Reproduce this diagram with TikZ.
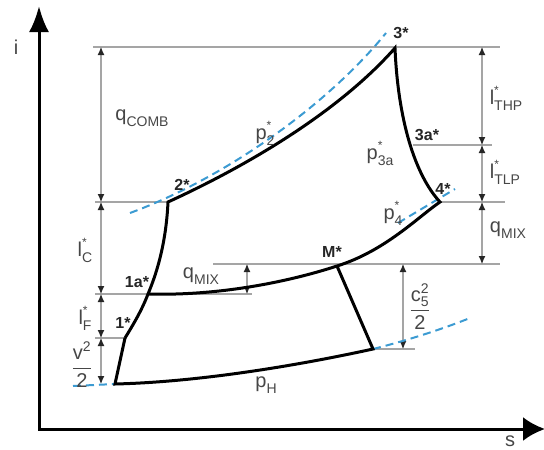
\documentclass[tikz,border=0pt]{standalone}
\usepackage{fontspec}
\setmainfont{Liberation Sans}
\usepackage{amsmath}
\usetikzlibrary{arrows.meta}
\definecolor{isoblue}{RGB}{60,155,210}
\definecolor{guidegray}{RGB}{165,165,165}
\definecolor{labgray}{RGB}{70,70,70}
% base, superscript, subscript
\newcommand{\Lab}[3]{#1\makebox[0pt][l]{\raisebox{0.5em}{\fontsize{12}{12}\selectfont #2}}\raisebox{-0.3em}{\fontsize{14}{14}\selectfont #3}}
\begin{document}
\begin{tikzpicture}[x=1pt,y=-1pt,
  axis/.style={line width=3pt, {Latex[length=26pt,width=20pt]}-{Latex[length=22pt,width=24pt]}},
  curve/.style={line width=3pt},
  guide/.style={draw=guidegray, line width=1.1pt},
  dim/.style={draw=guidegray, line width=1.1pt, {Latex[length=8pt,width=7pt,color=black!85]}-{Latex[length=8pt,width=7pt,color=black!85]}},
  iso/.style={draw=isoblue, line width=2pt, dash pattern=on 8pt off 5pt},
  ptlabel/.style={font=\bfseries\fontsize{16}{16}\selectfont, text=black!85, inner sep=0pt},
  lbl/.style={font=\fontsize{20}{20}\selectfont, text=labgray, inner sep=0pt},
]
\useasboundingbox (0,0) rectangle (544,450);

% points
\coordinate (P3) at (395,48);
\coordinate (P2) at (168,202);
\coordinate (P4) at (440,202);
\coordinate (PM) at (337,266);
\coordinate (P1a) at (148,294);
\coordinate (P1) at (125,338);
\coordinate (P0) at (115,384);
\coordinate (P5) at (373,349);

% axes
\coordinate (Ytop) at (39,6);
\coordinate (O) at (39,429);
\coordinate (Xend) at (545,429);
\draw[axis] (Ytop) -- (O) -- (Xend);
\node[lbl] (ilab) at (16,47) {i};
\node[lbl] (slab) at (510,441) {s};

% guide lines
\coordinate (g1a) at (93,47);   \coordinate (g1b) at (500,47);
\coordinate (g2a) at (413,145); \coordinate (g2b) at (492,145);
\coordinate (g3a) at (95,202);
\coordinate (g4b) at (505,202);
\coordinate (g5a) at (213,264); \coordinate (g5b) at (500,264);
\coordinate (g6a) at (95,294);  \coordinate (g6b) at (252,294);
\coordinate (g7a) at (95,338);
\coordinate (g8b) at (415,349);
\draw[guide] (g1a) -- (g1b);
\draw[guide] (g2a) -- (g2b);
\draw[guide] (g3a) -- (P2);
\draw[guide] (P4) -- (g4b);
\draw[guide] (g5a) -- (g5b);
\draw[guide] (g6a) -- (g6b);
\draw[guide] (g7a) -- (P1);
\draw[guide] (P5) -- (g8b);

% dimension lines
\coordinate (dl1) at (101,47);  \coordinate (dl2) at (101,202);
\coordinate (dl3) at (101,294); \coordinate (dl4) at (101,338);
\coordinate (dl5) at (101,384);
\draw[dim] (dl1) -- (dl2);
\draw[dim] (dl2) -- (dl3);
\draw[dim] (dl3) -- (dl4);
\draw[dim] (dl4) -- (dl5);
\coordinate (dr1) at (482,47);  \coordinate (dr2) at (482,145);
\coordinate (dr3) at (482,202); \coordinate (dr4) at (482,264);
\draw[dim] (dr1) -- (dr2);
\draw[dim] (dr2) -- (dr3);
\draw[dim] (dr3) -- (dr4);
\coordinate (dc1) at (403,264); \coordinate (dc2) at (403,349);
\draw[dim] (dc1) -- (dc2);
\coordinate (dq1) at (247,264); \coordinate (dq2) at (247,294);
\draw[dim] (dq1) -- (dq2);

% blue dashed isobars
\coordinate (b1a) at (130,213); \coordinate (b1b) at (386,33);
\draw[iso] (b1a) .. controls (230,176) and (330,102) .. (b1b);
\coordinate (b2a) at (73,386);
\draw[iso] (b2a) -- (P0);
\coordinate (b3b) at (470,318);
\draw[iso] (P5) .. controls (405,341) and (440,330) .. (b3b);
\coordinate (b4a) at (398,223); \coordinate (b4b) at (455,189);
\draw[iso] (b4a) -- (b4b);

% cycle
\draw[curve] (P1) .. controls (133,325) and (142,310) .. (P1a)
  .. controls (156,275) and (166,245) .. (P2)
  .. controls (238,170) and (335,116) .. (P3)
  .. controls (398,120) and (415,175) .. (P4)
  .. controls (418,217) and (385,251) .. (PM)
  .. controls (285,283) and (215,296) .. (P1a);
\draw[curve] (P1) -- (P0) .. controls (200,382) and (300,365) .. (P5) -- (PM);

% point labels
\node[ptlabel] (l3) at (401,33) {3*};
\node[ptlabel] (l2) at (182,185) {2*};
\node[ptlabel] (l3a) at (427,135) {3a*};
\node[ptlabel] (l4) at (443,189) {4*};
\node[ptlabel] (lM) at (332,252) {M*};
\node[ptlabel] (l1a) at (137,282) {1a*};
\node[ptlabel] (l1) at (123,323) {1*};

% quantity labels
\node[lbl] (qcomb) at (142,118) {\Lab{q}{}{COMB}};
\node[lbl] (p2l) at (265,133) {\Lab{p}{*}{2}};
\node[lbl] (p3al) at (380,153) {\Lab{p}{*}{3a}};
\node[lbl] (p4l) at (393,213) {\Lab{p}{*}{4}};
\node[lbl] (lthp) at (506,98) {\Lab{l}{*}{THP}};
\node[lbl] (ltlp) at (505,172) {\Lab{l}{*}{TLP}};
\node[lbl] (qmixr) at (508,230) {\Lab{q}{}{MIX}};
\node[lbl] (qmixl) at (201,276) {\Lab{q}{}{MIX}};
\node[lbl] (lcl) at (85,250) {\Lab{l}{*}{C}};
\node[lbl] (lfl) at (85,318) {\Lab{l}{*}{F}};
\node[lbl] (vl) at (82,365) {$\dfrac{\text{v}^{\text{2}}}{\text{2}}$};
\node[lbl] (cl) at (420,307) {$\dfrac{\text{c}^{\text{2}}_{\text{5}}}{\text{2}}$};
\node[lbl] (phl) at (266,385) {\Lab{p}{}{H}};
\end{tikzpicture}
\end{document}
